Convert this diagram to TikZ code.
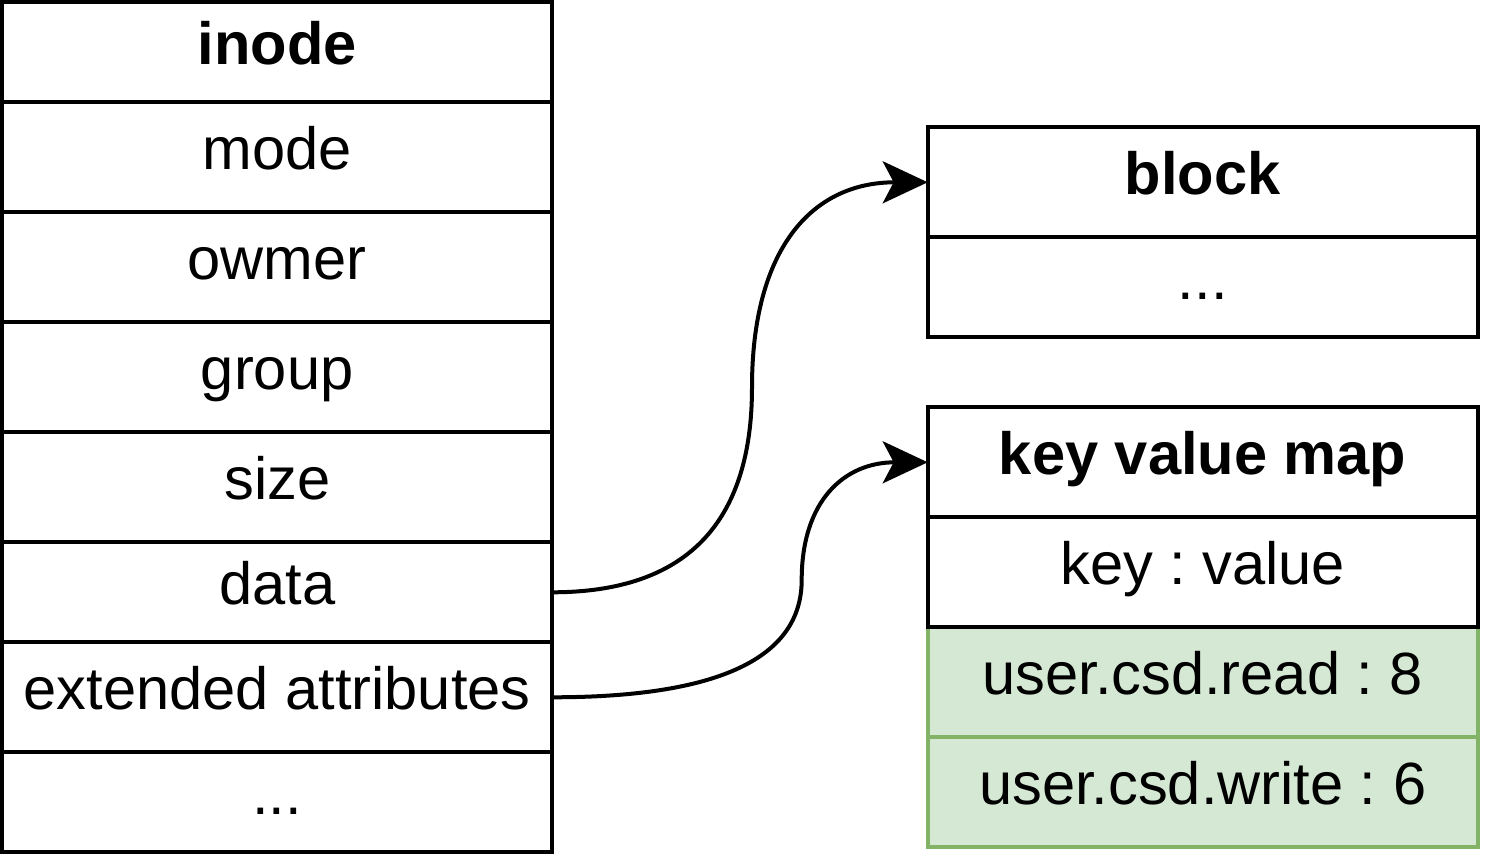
\documentclass[tikz,border=0pt]{standalone}
\usepackage{fontspec}
\setmainfont{Liberation Sans}
\usetikzlibrary{positioning,arrows.meta,backgrounds}
\definecolor{xattrfill}{HTML}{D5E8D4}
\definecolor{xattrline}{HTML}{82B366}
\newcommand{\cellfont}{\fontsize{29.8pt}{36pt}\selectfont\frenchspacing}
\tikzset{
x=0.5pt,
y=-0.5pt,
>={Stealth[length=22.5pt,width=21pt,inset=5.5pt]},
node distance=0pt,
field/.style={draw, line width=2pt, fill=white, font=\cellfont, minimum width=275pt,
  minimum height=55pt, inner sep=0pt, outer sep=0pt, text height=21pt, text depth=9pt},
short/.style={minimum height=50pt},
head/.style={field, font=\cellfont\bfseries},
xattr/.style={field, draw=xattrline, fill=xattrfill},
link/.style={->, line width=2pt},
}

\begin{document}
\begin{tikzpicture}
        \useasboundingbox (0,0) rectangle (1485,860);

        % inode table
        \node[head,short] (inode) at (277.2,52.3) {inode};
        \node[field,below=of inode] (mode) {mode};
        \node[field,below=of mode] (owner) {owmer};
        \node[field,below=of owner] (group) {group};
        \node[field,below=of group] (size) {size};
        \node[field,short,below=of size] (data) {data};
        \node[field,below=of data] (xattrs) {extended attributes};
        \node[field,short,below=of xattrs] (more) {...};

        % block table
        \node[head] (block) at (1202.7,182.3) {block};
        \node[field,short,below=of block] (blockmore) {...};

        % key value map
        \node[head] (kvmap) at (1202.7,462.3) {key value map};
        \node[field,below=of kvmap] (kv) {key : value};
        \begin{scope}[on background layer]
            \node[xattr,below=of kv] (csdread) {user.csd.read : 8};
            \node[xattr,below=of csdread] (csdwrite) {user.csd.write : 6};
        \end{scope}

        \draw[link] (data.east) .. controls +(133.2,0) and +(0,136.7) .. (752,387.3)
            .. controls +(0,-136.7) and +(-117.1,0) .. (block.west);
        \draw[link] (xattrs.east) .. controls +(166.3,0) and +(0,78.3) .. (801.7,579.8)
            .. controls +(0,-78.3) and +(-84,0) .. (kvmap.west);
    \end{tikzpicture}
\end{document}
